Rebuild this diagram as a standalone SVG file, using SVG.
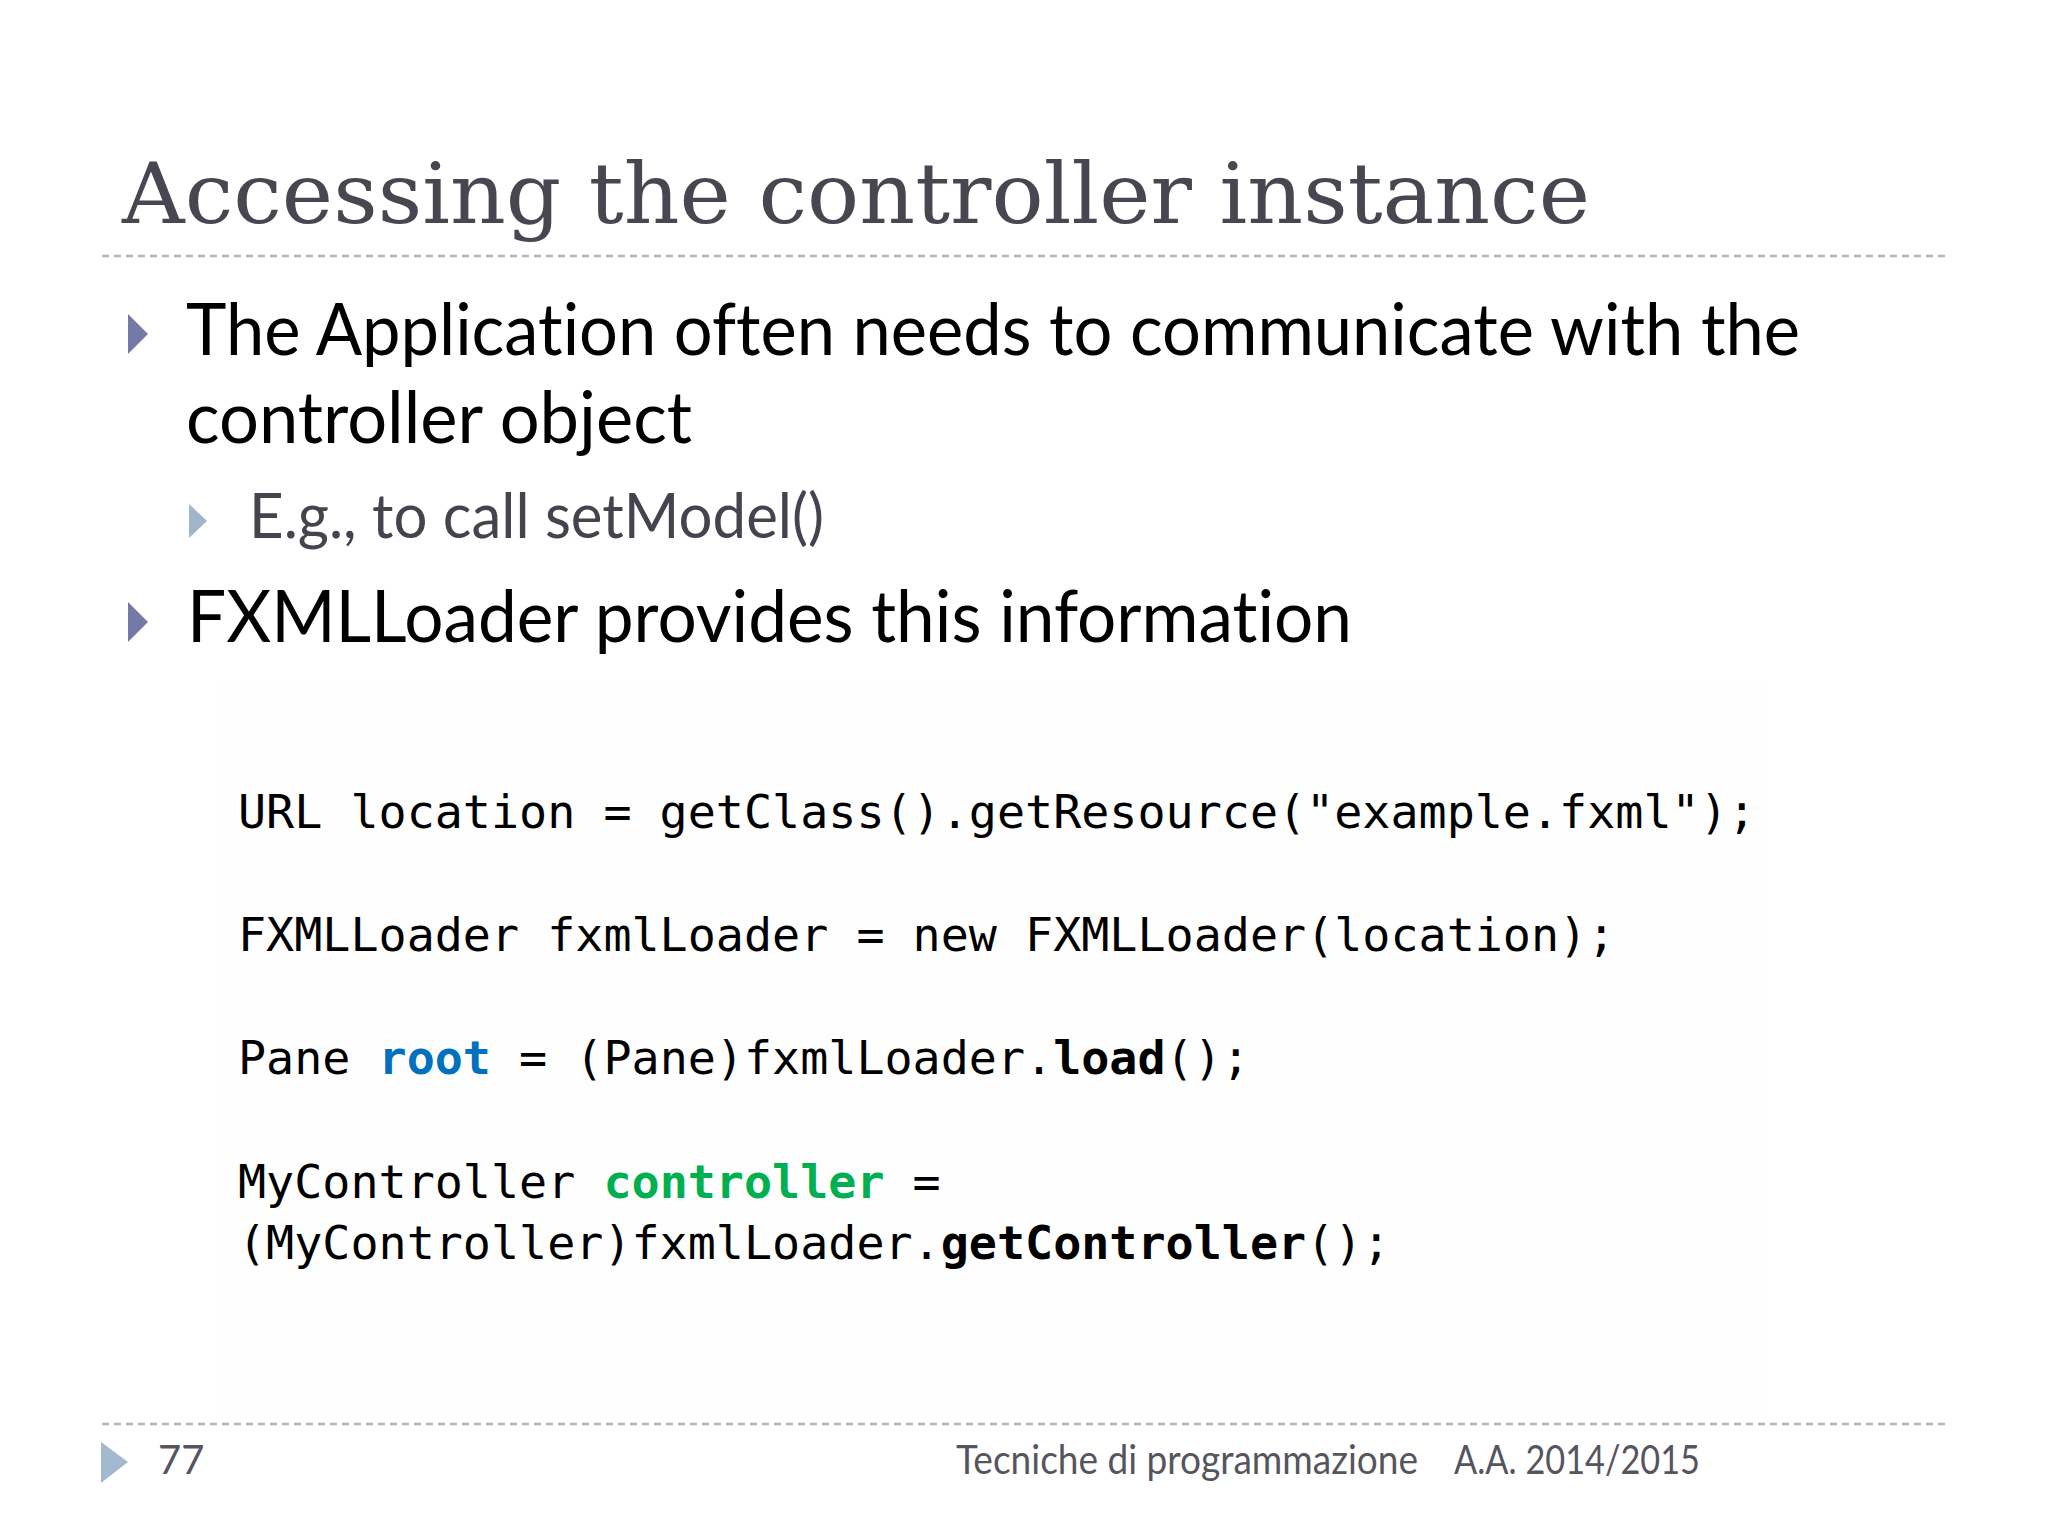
<svg xmlns="http://www.w3.org/2000/svg" width="2048" height="1536" viewBox="0 0 2048 1536">
<style>
.title{font-family:"DejaVu Serif","Liberation Serif",serif;font-size:84px;fill:#474752}
.body{font-family:Lato,"Open Sans","Liberation Sans",sans-serif;font-size:72px;fill:#000;font-variant-ligatures:none}
.sub{font-family:Lato,"Open Sans","Liberation Sans",sans-serif;font-size:62px;fill:#44444e;font-variant-ligatures:none}
.code{font-family:"DejaVu Sans Mono","Liberation Mono",monospace;font-size:46.7px;fill:#000}
.b{font-weight:bold}
.foot{font-family:Lato,"Open Sans","Liberation Sans",sans-serif;font-size:40px;fill:#55555f}
.rule{stroke:#a9b8c8;stroke-width:2.5;stroke-dasharray:7 5;fill:none}
</style>
<rect width="2048" height="1536" fill="#ffffff"/>
<g id="header">
<text class="title" x="122" y="223" textLength="1468" lengthAdjust="spacingAndGlyphs">Accessing the controller instance</text>
<line class="rule" x1="102" y1="256" x2="1948" y2="256"/>
</g>
<g id="bullets">
<polygon points="128,314 148,334 128,354" fill="#7579a6"/>
<text class="body" x="186" y="355" textLength="1614" lengthAdjust="spacingAndGlyphs">The Application often needs to communicate with the</text>
<text class="body" x="186" y="443" textLength="506" lengthAdjust="spacingAndGlyphs">controller object</text>
<polygon points="189,504 207,521 189,538" fill="#a0b5c9"/>
<text class="sub" x="249" y="538" textLength="575" lengthAdjust="spacingAndGlyphs">E.g., to call setModel()</text>
<polygon points="128,602 148,622 128,642" fill="#7579a6"/>
<text class="body" x="187" y="642" textLength="1165" lengthAdjust="spacingAndGlyphs">FXMLLoader provides this information</text>
</g>
<g id="code">
<rect x="222" y="680" width="1545" height="735" fill="#fefefe"/>
<text class="code" x="238" y="828" xml:space="preserve">URL location = getClass().getResource("example.fxml");</text>
<text class="code" x="238" y="951" xml:space="preserve">FXMLLoader fxmlLoader = new FXMLLoader(location);</text>
<text class="code" x="238" y="1074" xml:space="preserve">Pane <tspan class="b" fill="#0070c0">root</tspan> = (Pane)fxmlLoader.<tspan class="b">load</tspan>();</text>
<text class="code" x="238" y="1198" xml:space="preserve">MyController <tspan class="b" fill="#00b050">controller</tspan> =</text>
<text class="code" x="238" y="1259" xml:space="preserve">(MyController)fxmlLoader.<tspan class="b">getController</tspan>();</text>
</g>
<g id="footer">
<line class="rule" x1="102" y1="1424" x2="1948" y2="1424"/>
<polygon points="101,1442 128,1462 101,1483" fill="#a3b9cf"/>
<text class="foot" x="158" y="1474" fill="#3c3c46">77</text>
<text class="foot" x="956" y="1474" textLength="462" lengthAdjust="spacingAndGlyphs">Tecniche di programmazione</text>
<text class="foot" x="1454" y="1474" textLength="246" lengthAdjust="spacingAndGlyphs">A.A. 2014/2015</text>
</g>
</svg>
